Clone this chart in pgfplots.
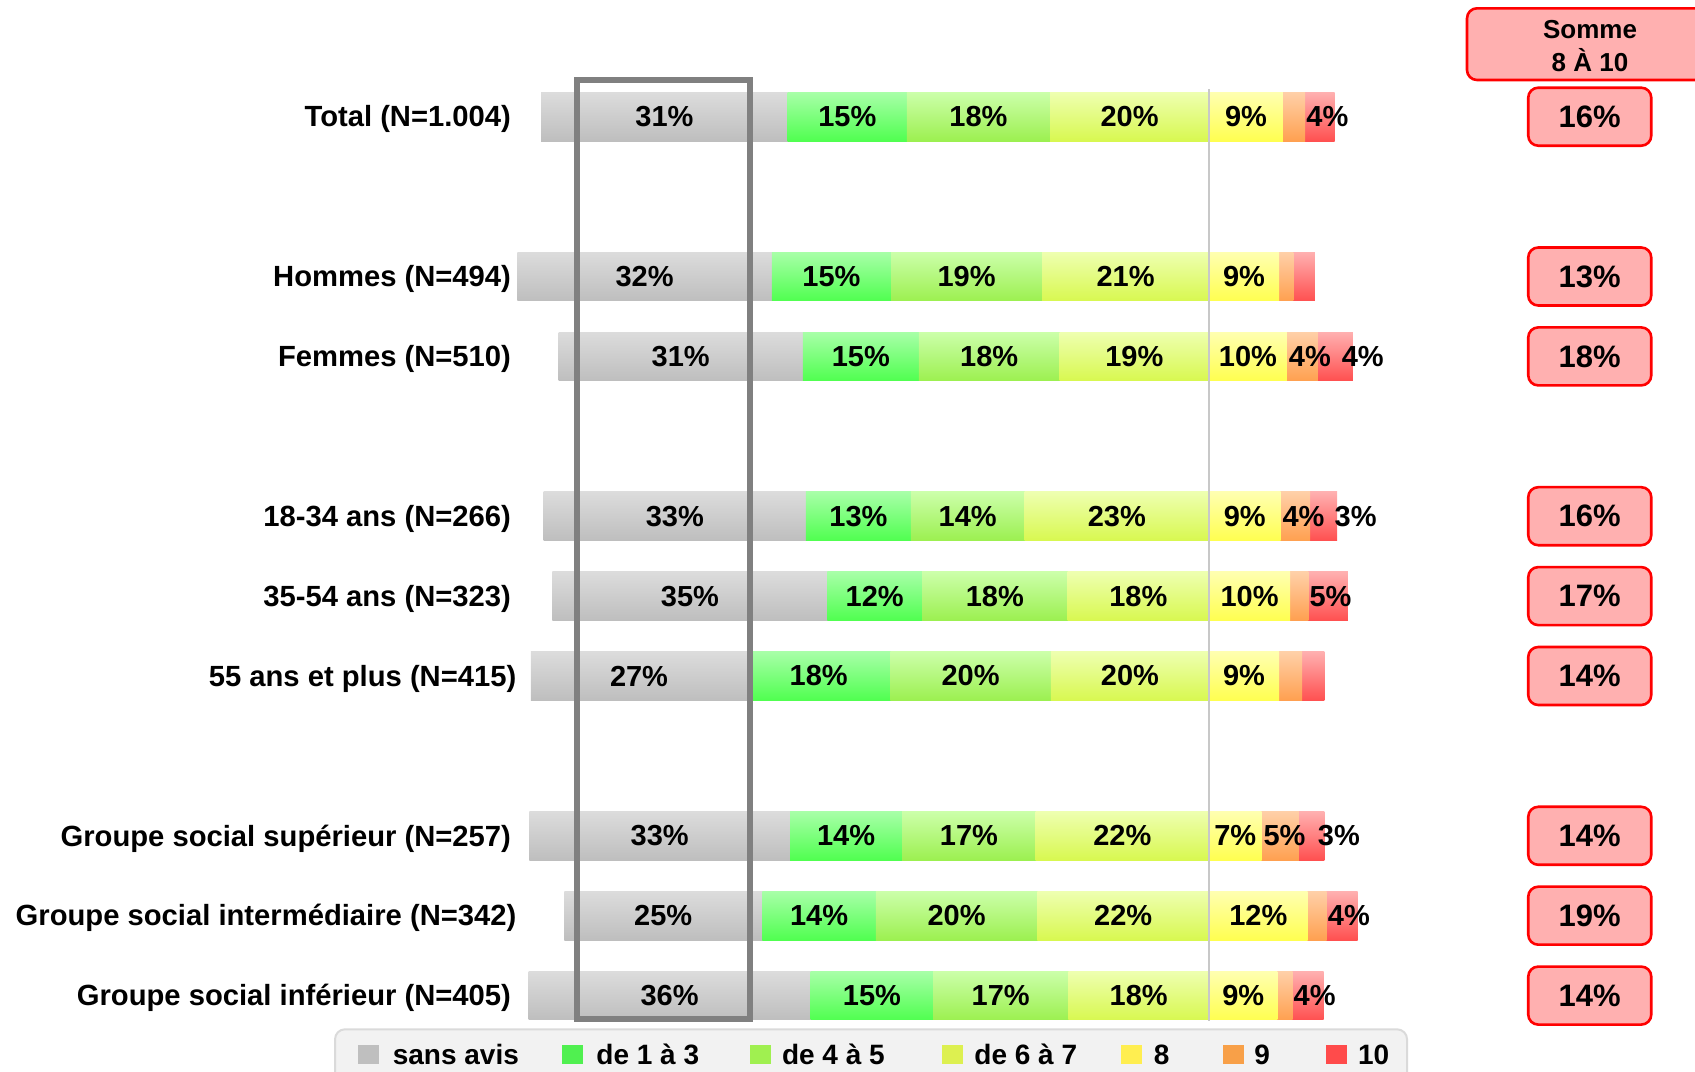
\documentclass[border=0pt]{standalone}
\usepackage{pgfplots}
\pgfplotsset{compat=1.18}
\usepackage{pgfplotstable}
\usepackage{fontspec}
\setmainfont{Liberation Sans}

\definecolor{saT}{HTML}{DCDCDC}\definecolor{saB}{HTML}{BEBEBE}
\definecolor{aT}{HTML}{A8FFA8}\definecolor{aB}{HTML}{50FF50}
\definecolor{bT}{HTML}{CCFFAA}\definecolor{bB}{HTML}{9CF050}
\definecolor{cT}{HTML}{EEFFB0}\definecolor{cB}{HTML}{D8F850}
\definecolor{dT}{HTML}{FFFFB0}\definecolor{dB}{HTML}{FFFF50}
\definecolor{eT}{HTML}{FFD0A8}\definecolor{eB}{HTML}{FFA050}
\definecolor{fT}{HTML}{FFB0B0}\definecolor{fB}{HTML}{FF5050}
\definecolor{lsa}{HTML}{BFBFBF}\definecolor{la}{HTML}{50F050}
\definecolor{lb}{HTML}{A0F050}\definecolor{lc}{HTML}{DDF050}
\definecolor{ld}{HTML}{FFEE50}\definecolor{le}{HTML}{F8A048}
\definecolor{lf}{HTML}{FF4B4B}
\definecolor{sommeF}{HTML}{FFB0B0}\definecolor{sommeR}{HTML}{FF0000}
\definecolor{legF}{HTML}{F2F2F2}\definecolor{legB}{HTML}{DADADA}
\definecolor{zeroL}{HTML}{C8C8C8}\definecolor{boxG}{HTML}{808080}

\pgfplotstableread{
y sa a b c d e f fo s
0 31 15 18 20 9.3 2.8 3.7 0 16
2 32 15 19 21 8.8 1.8 2.7 0 13
3 30.7 14.6 17.7 18.8 9.8 3.9 4.4 2.85 18
5 33 13.2 14.3 23.2 9.0 3.7 3.4 2.95 16
6 34.6 11.9 18.3 17.8 10.2 2.3 4.95 0 17
7 27.2 18 20.2 19.9 8.8 2.9 2.8 0 14
9 32.8 14.1 16.8 21.8 6.6 4.7 3.2 2.25 14
10 24.9 14.3 20.3 21.6 12.4 2.4 3.9 0 19
11 35.5 15.4 17 17.7 8.6 1.9 3.9 0 14
}\data

\pgfplotstableread[col sep=comma]{
y,off,name
0,0,Total (N=1.004)
2,0,Hommes (N=494)
3,0,Femmes (N=510)
5,0,18-34 ans (N=266)
6,0,35-54 ans (N=323)
7,0.68,55 ans et plus (N=415)
9,0,Groupe social supérieur (N=257)
10,0.68,Groupe social intermédiaire (N=342)
11,0,Groupe social inférieur (N=405)
}\rows

\pgfplotsset{
  base/.style={scale only axis, width=847.5pt, height=535.5pt,
    xmin=-152.08, xmax=61.13, ymin=-1.4606, ymax=11.944, y dir=reverse,
    hide axis, clip=false},
  seg/.style 2 args={draw=none, top color=#1, bottom color=#2},
  lbl/.style={draw=none, mark=none, point meta=explicit,
    /pgf/number format/assume math mode=true,
    nodes near coords={\pgfmathprintnumber[fixed,precision=0]{\pgfplotspointmeta}\%},
    every node near coord/.append style={anchor=center, inner sep=0pt, text=black,
      font=\fontsize{14.5}{17}\selectfont\bfseries}},
}
\tikzset{legsq/.style={fill=#1, minimum width=10.5pt, minimum height=9.5pt, inner sep=0pt, anchor=west},
  legtx/.style={anchor=base west, inner sep=0pt, font=\fontsize{14}{16}\selectfont\bfseries}}

\begin{document}
\begin{tikzpicture}
% bars: one plot per row and segment, so that each bar has its own vertical shading;
% each bar runs from 0 to the cumulated value, shorter ones drawn over longer ones
\begin{axis}[base, xbar, bar width=24.35pt, bar shift=0pt]
\pgfplotsinvokeforeach{0,2,3,5,6,7,9,10,11}{
\addplot[seg={saT}{saB}, restrict y to domain=#1:#1] table[x expr=-(\thisrow{sa}+\thisrow{a}+\thisrow{b}+\thisrow{c}), y=y]{\data};
\addplot[seg={aT}{aB}, restrict y to domain=#1:#1] table[x expr=-(\thisrow{a}+\thisrow{b}+\thisrow{c}), y=y]{\data};
\addplot[seg={bT}{bB}, restrict y to domain=#1:#1] table[x expr=-(\thisrow{b}+\thisrow{c}), y=y]{\data};
\addplot[seg={cT}{cB}, restrict y to domain=#1:#1] table[x expr=-\thisrow{c}, y=y]{\data};
\addplot[seg={fT}{fB}, restrict y to domain=#1:#1] table[x expr=\thisrow{d}+\thisrow{e}+\thisrow{f}, y=y]{\data};
\addplot[seg={eT}{eB}, restrict y to domain=#1:#1] table[x expr=\thisrow{d}+\thisrow{e}, y=y]{\data};
\addplot[seg={dT}{dB}, restrict y to domain=#1:#1] table[x=d, y=y]{\data};
}
\end{axis}
% overlay
\begin{axis}[base]
\addplot[color=zeroL, line width=1pt, mark=none] coordinates {(0,-0.343) (0,11.324)};
\draw[color=boxG, line width=3pt] (axis cs:-79.5,-0.4556) rectangle (axis cs:-57.74,11.289);
% segment labels
\addplot[lbl] table[x expr=-(\thisrow{c}+\thisrow{b}+\thisrow{a}+0.5*\thisrow{sa}), y=y, meta=sa]{\data};
\addplot[lbl] table[x expr=-(\thisrow{c}+\thisrow{b}+0.5*\thisrow{a}), y=y, meta=a]{\data};
\addplot[lbl] table[x expr=-(\thisrow{c}+0.5*\thisrow{b}), y=y, meta=b]{\data};
\addplot[lbl] table[x expr=-0.5*\thisrow{c}, y=y, meta=c]{\data};
\addplot[lbl] table[x expr=0.5*\thisrow{d}, y=y, meta=d]{\data};
\addplot[lbl, every node near coord/.append style={anchor=west}, restrict expr to domain={\thisrow{e}}{2.95:1000}] table[x expr=\thisrow{d}+0.2, y=y, meta=e]{\data};
\addplot[lbl, every node near coord/.append style={anchor=west}, restrict expr to domain={\thisrow{f}}{2.95:1000}] table[x expr=\thisrow{d}+\thisrow{e}+\thisrow{fo}+0.1, y=y, meta=f]{\data};
% row labels
\addplot[draw=none, mark=none, point meta=explicit symbolic, nodes near coords,
  every node near coord/.append style={anchor=east, inner sep=0pt, text=black, yshift=-1.3pt,
    font=\fontsize{14.6}{17}\selectfont\bfseries}]
  table[x expr=-87.76+\thisrow{off}, y=y, meta=name]{\rows};
% somme boxes
\addplot[draw=none, mark=none, point meta=explicit,
  /pgf/number format/assume math mode=true,
  nodes near coords={\pgfmathprintnumber[fixed,precision=0]{\pgfplotspointmeta}\%},
  every node near coord/.append style={anchor=center, draw=sommeR, fill=sommeF,
    line width=1.3pt, rounded corners=5pt, minimum width=61.5pt, minimum height=29pt,
    inner sep=0pt, text=black, font=\fontsize{15.5}{18}\selectfont\bfseries}]
  table[x expr=47.89, y=y, meta=s]{\data};
% header box
\draw[draw=sommeR, fill=sommeF, line width=1.3pt, rounded corners=5pt]
  (axis cs:32.45,-1.3567) rectangle (axis cs:63.4,-0.4593);
\node[align=center, font=\fontsize{13}{16.5}\selectfont\bfseries, inner sep=0pt]
  at (axis cs:47.92,-0.885) {Somme\\8 À 10};
% legend
\draw[draw=legB, fill=legF, line width=1pt, rounded corners=5pt]
  (axis cs:-109.94,11.422) rectangle (axis cs:24.91,12.3);
\node[legsq=lsa] at (axis cs:-107.1,11.737) {};
\node[legtx] at (axis cs:-102.72,11.858) {sans avis};
\node[legsq=la] at (axis cs:-81.5,11.737) {};
\node[legtx] at (axis cs:-77.11,11.858) {de 1 à 3};
\node[legsq=lb] at (axis cs:-57.85,11.737) {};
\node[legtx] at (axis cs:-53.76,11.858) {de 4 à 5};
\node[legsq=lc] at (axis cs:-33.64,11.737) {};
\node[legtx] at (axis cs:-29.56,11.858) {de 6 à 7};
\node[legsq=ld] at (axis cs:-11.07,11.737) {};
\node[legtx] at (axis cs:-6.99,11.858) {8};
\node[legsq=le] at (axis cs:1.71,11.737) {};
\node[legtx] at (axis cs:5.66,11.858) {9};
\node[legsq=lf] at (axis cs:14.63,11.737) {};
\node[legtx] at (axis cs:18.70,11.858) {10};
\end{axis}
\pgfresetboundingbox
\path[use as bounding box] (0,0) rectangle (847.5pt,535.5pt);
\end{tikzpicture}
\end{document}
